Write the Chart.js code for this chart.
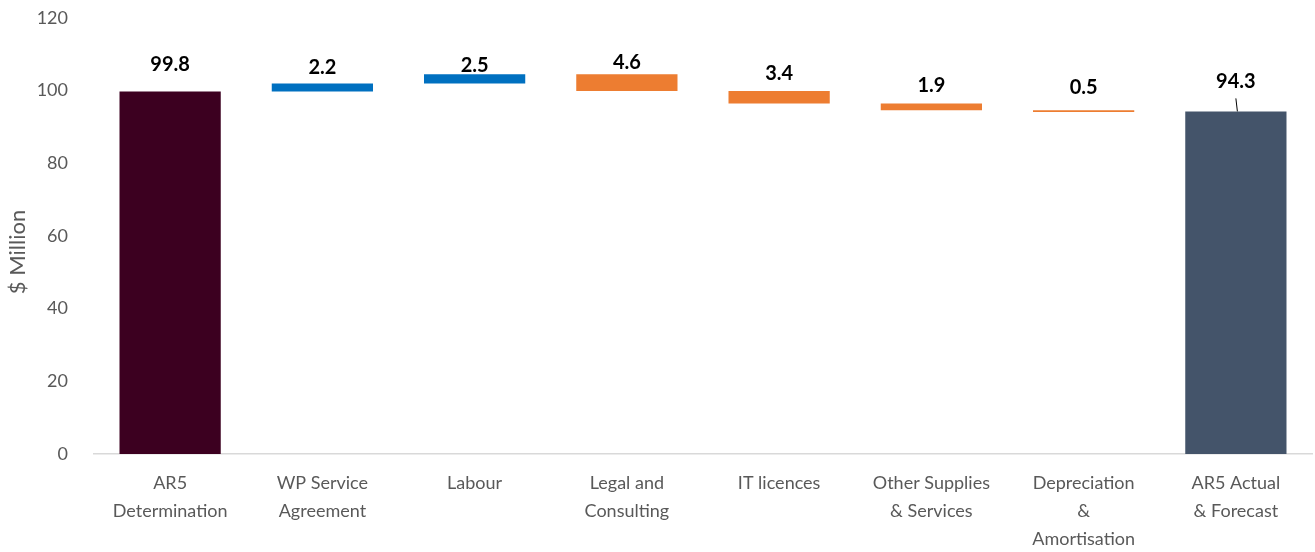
<!DOCTYPE html>
<html>
<head>
<meta charset="utf-8">
<title>AR5 opex waterfall</title>
<script src="https://cdn.jsdelivr.net/npm/chart.js@4/dist/chart.umd.min.js"></script>
<style>
  html, body { margin: 0; padding: 0; background: #fff; }
  #wrap { width: 1315px; height: 552px; position: relative; }
</style>
</head>
<body>
<div id="wrap"><canvas id="waterfall"></canvas></div>
<script>
// --- data ---
const categories = [
  ["AR5", "Determination"],
  ["WP Service", "Agreement"],
  ["Labour"],
  ["Legal and", "Consulting"],
  ["IT licences"],
  ["Other Supplies", "& Services"],
  ["Depreciation", "&", "Amortisation"],
  ["AR5 Actual", "& Forecast"]
];
const openingTotal = 99.8;
const movements = [2.2, 2.5, -4.6, -3.4, -1.9, -0.5];
const closingTotal = 94.3;
const yTicks = [0, 20, 40, 60, 80, 100, 120];

// colours: opening, increase, decrease, closing
const barColours = ["#3C0020", "#0070C0", "#ED7D31", "#44546A"];

// build floating bars [low, high] from the running total
const bars = [[0, openingTotal]];
const labels = [openingTotal];
const colours = [barColours[0]];
let running = openingTotal;
movements.forEach(m => {
  const next = Math.round((running + m) * 10) / 10;
  bars.push([Math.min(running, next), Math.max(running, next)]);
  labels.push(Math.abs(m));
  colours.push(m >= 0 ? barColours[1] : barColours[2]);
  running = next;
});
bars.push([0, closingTotal]);
labels.push(closingTotal);
colours.push(barColours[3]);

// label lift above each bar top (px), and which label gets a leader line
const labelLift = [27, 16, 9, 12, 17, 18, 23, 30];
const leaderLine = [false, false, false, false, false, false, false, true];

const valueLabels = {
  id: "valueLabels",
  afterDatasetsDraw(chart) {
    const ctx = chart.ctx;
    const meta = chart.getDatasetMeta(0);
    ctx.save();
    ctx.font = "bold 20px Lato";
    ctx.fillStyle = "#000";
    ctx.textAlign = "center";
    ctx.textBaseline = "middle";
    meta.data.forEach((el, i) => {
      const top = Math.min(el.y, el.base);
      const y = top - labelLift[i];
      ctx.fillText(labels[i].toFixed(1), el.x, y);
      if (leaderLine[i]) {
        ctx.strokeStyle = "#000";
        ctx.lineWidth = 1;
        ctx.beginPath();
        ctx.moveTo(el.x, y + 17);
        ctx.lineTo(el.x + 1.5, top);
        ctx.stroke();
      }
    });
    ctx.restore();
  }
};

// y-axis title, centred a little below the plot middle
const yTitle = {
  id: "yTitle",
  afterDraw(chart) {
    const ctx = chart.ctx;
    ctx.save();
    ctx.translate(18, 252);
    ctx.rotate(-Math.PI / 2);
    ctx.font = "22px Lato";
    ctx.fillStyle = "#595959";
    ctx.textAlign = "center";
    ctx.textBaseline = "middle";
    ctx.fillText("$ Million", 0, 0);
    ctx.restore();
  }
};

new Chart(document.getElementById("waterfall"), {
  type: "bar",
  data: {
    labels: categories,
    datasets: [{
      data: bars,
      backgroundColor: colours,
      borderWidth: 0,
      barPercentage: 0.665,
      categoryPercentage: 1
    }]
  },
  options: {
    responsive: true,
    maintainAspectRatio: false,
    animation: false,
    layout: { padding: { top: 18, right: 3, left: 0, bottom: 0 } },
    plugins: {
      legend: { display: false },
      tooltip: { enabled: false }
    },
    scales: {
      x: {
        grid: { display: false },
        border: { display: true, color: "#D9D9D9", width: 1.5 },
        ticks: {
          color: "#595959",
          font: { family: "Lato", size: 18, lineHeight: 1.55 },
          padding: 7,
          maxRotation: 0,
          autoSkip: false
        },
        afterFit(scale) { scale.height = 98; }
      },
      y: {
        min: 0,
        max: 120,
        grid: { display: false },
        border: { display: false },
        afterBuildTicks(scale) { scale.ticks = yTicks.map(v => ({ value: v })); },
        ticks: {
          color: "#595959",
          font: { family: "Lato", size: 18 },
          padding: 18
        },
        afterFit(scale) {
          scale.width = 94;
          scale.paddingTop = 0;
          scale.paddingBottom = 0;
        }
      }
    }
  },
  plugins: [valueLabels, yTitle]
});
</script>
</body>
</html>
